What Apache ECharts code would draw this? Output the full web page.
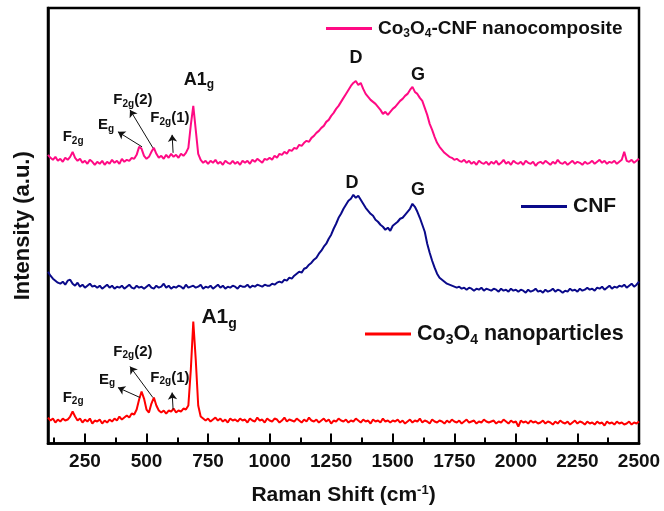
<!DOCTYPE html>
<html>
<head>
<meta charset="utf-8">
<script src="https://cdn.jsdelivr.net/npm/echarts@6/dist/echarts.min.js"></script>
<style>
  html, body { margin: 0; padding: 0; background: #fff; }
  #chart { width: 664px; height: 511px; }
</style>
</head>
<body>
<div id="chart"></div>
<script>
// Raman shift (cm-1), step 10
const shift = [
  100,110,120,130,140,150,160,170,180,190,200,210,220,230,240,250,260,270,280,290,
  300,310,320,330,340,350,360,370,380,390,400,410,420,430,440,450,460,470,480,490,
  500,510,520,530,540,550,560,570,580,590,600,610,620,630,640,650,660,670,680,690,
  700,710,720,730,740,750,760,770,780,790,800,810,820,830,840,850,860,870,880,890,
  900,910,920,930,940,950,960,970,980,990,1000,1010,1020,1030,1040,1050,1060,1070,1080,1090,
  1100,1110,1120,1130,1140,1150,1160,1170,1180,1190,1200,1210,1220,1230,1240,1250,1260,1270,1280,1290,
  1300,1310,1320,1330,1340,1350,1360,1370,1380,1390,1400,1410,1420,1430,1440,1450,1460,1470,1480,1490,
  1500,1510,1520,1530,1540,1550,1560,1570,1580,1590,1600,1610,1620,1630,1640,1650,1660,1670,1680,1690,
  1700,1710,1720,1730,1740,1750,1760,1770,1780,1790,1800,1810,1820,1830,1840,1850,1860,1870,1880,1890,
  1900,1910,1920,1930,1940,1950,1960,1970,1980,1990,2000,2010,2020,2030,2040,2050,2060,2070,2080,2090,
  2100,2110,2120,2130,2140,2150,2160,2170,2180,2190,2200,2210,2220,2230,2240,2250,2260,2270,2280,2290,
  2300,2310,2320,2330,2340,2350,2360,2370,2380,2390,2400,2410,2420,2430,2440,2450,2460,2470,2480,2490,
  2500
];

// intensities (a.u., stacked offsets as in the figure)
const composite = [
  289,286,284,287,283,285,282,286,284,287,292,286,283,285,281,283,280,284,282,279,
  282,280,283,279,282,280,284,281,283,280,285,282,284,283,286,285,289,297,295,288,
  285,287,292,296,290,286,288,285,289,286,290,287,289,286,290,288,291,296,319,338,
  314,290,284,281,283,280,283,281,284,280,282,279,283,281,280,283,280,282,279,283,
  281,283,280,284,282,285,283,281,285,284,286,284,288,286,290,289,292,290,294,293,
  296,295,299,298,301,303,302,306,308,311,313,316,318,322,324,328,331,335,338,342,
  346,350,354,358,361,363,359,361,355,350,347,344,342,340,337,334,330,332,329,332,
  335,337,340,343,345,348,350,354,357,352,350,346,343,336,329,320,314,307,301,297,
  294,291,289,287,286,284,285,283,282,284,281,283,280,282,279,283,281,280,282,279,
  282,280,283,279,281,284,280,282,279,283,281,280,282,279,283,281,280,282,278,281,
  282,280,283,281,279,282,280,284,281,280,282,279,281,283,280,282,281,279,282,280,
  281,283,280,282,284,281,283,280,282,281,283,280,282,284,292,283,282,284,281,283,
  285
];
const cnf = [
  172,168,165,163,161,160,162,159,163,164,160,158,161,157,159,156,158,160,157,158,
  156,158,155,157,159,156,158,155,157,156,158,155,157,159,156,155,158,156,157,155,
  157,159,156,155,158,156,157,160,156,158,155,157,156,158,157,155,159,156,157,158,
  156,157,159,155,157,156,158,155,157,159,156,158,155,157,156,158,157,155,158,157,
  157,159,156,158,157,159,158,157,159,158,158,160,159,161,162,161,164,163,166,165,
  168,170,172,171,175,176,179,181,184,186,190,193,197,200,205,209,215,220,226,230,
  235,239,243,245,249,246,248,244,240,236,233,230,228,224,222,219,217,214,216,213,
  218,220,222,225,226,229,232,235,240,237,232,226,219,212,200,191,183,176,170,166,
  164,162,160,159,158,157,156,157,155,156,154,156,155,153,155,154,156,153,155,154,
  153,155,154,152,155,153,154,152,155,153,154,152,154,153,151,154,152,153,155,152,
  153,151,154,152,153,155,152,154,153,151,153,152,155,153,154,152,155,153,154,156,
  154,155,153,156,155,157,154,156,158,155,157,156,158,157,159,156,158,160,157,159,
  162
];
const co3o4 = [
  26,23,25,21,24,22,25,23,24,27,32,27,23,25,21,24,22,25,20,23,
  22,24,20,23,21,24,22,25,23,27,24,26,28,26,30,29,34,44,52,45,
  34,31,40,46,38,33,31,33,30,33,32,35,31,33,32,35,34,38,74,122,
  84,38,27,25,23,25,22,24,26,23,25,22,24,21,25,23,24,22,25,23,
  24,21,25,23,22,26,23,24,21,25,23,22,25,24,21,23,26,22,24,23,
  22,25,23,21,24,22,26,23,22,24,21,23,25,22,24,20,23,22,25,23,
  22,24,21,23,22,25,23,21,24,22,23,20,24,22,23,21,25,22,23,21,
  23,22,24,21,23,20,22,24,21,23,22,25,21,23,22,20,24,22,21,23,
  22,20,23,21,24,22,21,23,20,22,24,21,22,23,20,22,21,24,22,21,
  22,23,20,22,21,24,22,20,23,21,22,17,23,21,22,20,23,21,22,20,
  21,23,20,22,21,19,22,20,23,21,20,22,19,21,23,20,22,21,19,22,
  20,21,19,22,20,21,18,22,20,21,19,22,20,21,19,20,22,19,21,20,
  22
];

const majorTicks = [250,500,750,1000,1250,1500,1750,2000,2250,2500];
const minorTicks = [125,375,625,875,1125,1375,1625,1875,2125,2375];

// peak labels: [shift, intensity, text]
const compositeLabels = [
  [202, 307, '{b|F}{s|2g}'],
  [336, 319, '{b|E}{s|g}'],
  [445, 344, '{b|F}{s|2g}{b|(2)}'],
  [595, 326, '{b|F}{s|2g}{b|(1)}'],
  [713, 364, '{B|A1}{S|g}'],
  [1351, 386, '{B|D}'],
  [1603, 369, '{B|G}']
];
const cnfLabels = [
  [1335, 261, '{B|D}'],
  [1603, 254, '{B|G}']
];
const co3o4Labels = [
  [202, 46, '{b|F}{s|2g}'],
  [340, 64, '{b|E}{s|g}'],
  [445, 92, '{b|F}{s|2g}{b|(2)}'],
  [595, 66, '{b|F}{s|2g}{b|(1)}'],
  [795, 126, '{C|A1}{T|g}']
];
// arrows: [fromShift, fromI, toShift, toI]
const compositeArrows = [
  [482, 297, 384, 312],
  [526, 296, 433, 334],
  [608, 291, 604, 309]
];
const co3o4Arrows = [
  [474, 46, 384, 56],
  [526, 46, 433, 77],
  [608, 34, 604, 51]
];

const FONT = '"Liberation Sans", Arial, sans-serif';
const rich = {
  b: { fontFamily: FONT, fontWeight: 'bold', fontSize: 15, color: '#111' },
  s: { fontFamily: FONT, fontWeight: 'bold', fontSize: 10, color: '#111', padding: [8, 0, 0, 0] },
  B: { fontFamily: FONT, fontWeight: 'bold', fontSize: 18, color: '#111' },
  S: { fontFamily: FONT, fontWeight: 'bold', fontSize: 12, color: '#111', padding: [10, 0, 0, 0] },
  C: { fontFamily: FONT, fontWeight: 'bold', fontSize: 21, color: '#111' },
  T: { fontFamily: FONT, fontWeight: 'bold', fontSize: 14, color: '#111', padding: [12, 0, 0, 0] }
};

function pairs(vals) {
  return shift.map((x, i) => [x, vals[i]]);
}
function marks(list) {
  return {
    symbol: 'circle',
    symbolSize: 0,
    silent: true,
    label: { show: true, position: 'inside', formatter: p => p.name, rich: rich },
    data: list.map(l => ({ name: l[2], coord: [l[0], l[1]] }))
  };
}
function arrows(list) {
  return {
    silent: true,
    symbol: ['none', 'arrow'],
    symbolSize: 7,
    label: { show: false },
    lineStyle: { color: '#111', width: 1, type: 'solid' },
    emphasis: { disabled: true },
    data: list.map(a => [{ coord: [a[0], a[1]] }, { coord: [a[2], a[3]] }])
  };
}

const chart = echarts.init(document.getElementById('chart'));

function legendRich(size) {
  return {
    n: { fontFamily: FONT, fontWeight: 'bold', fontSize: size, color: '#111' },
    s: { fontFamily: FONT, fontWeight: 'bold', fontSize: Math.round(size * 0.65), color: '#111', padding: [Math.round(size * 0.55), 0, 0, 0] }
  };
}
const legendNames = {
  'Co3O4-CNF nanocomposite': '{n|Co}{s|3}{n|O}{s|4}{n|-CNF nanocomposite}',
  'CNF': '{n|CNF}',
  'Co3O4 nanoparticles': '{n|Co}{s|3}{n|O}{s|4}{n| nanoparticles}'
};
function legendAt(name, left, top, size) {
  return {
    data: [name],
    left: left,
    top: top,
    icon: 'rect',
    itemWidth: 46,
    itemHeight: 3,
    itemGap: 0,
    selectedMode: false,
    formatter: n => legendNames[n],
    textStyle: { rich: legendRich(size), padding: [0, 0, 0, 1] }
  };
}

const option = {
  animation: false,
  backgroundColor: '#fff',
  grid: {
    left: 48, right: 25, top: 8, bottom: 67,
    show: true, borderColor: '#000', borderWidth: 2.5
  },
  legend: [
    legendAt('Co3O4-CNF nanocomposite', 321, 14, 19),
    legendAt('CNF', 516, 191, 21),
    legendAt('Co3O4 nanoparticles', 360, 318, 21.5)
  ],
  xAxis: [
    {
      type: 'value', min: 100, max: 2500,
      name: '{t|Raman Shift (cm}{p|-1}{t|)}',
      nameLocation: 'middle', nameGap: 40,
      nameTextStyle: {
        rich: {
          t: { fontFamily: FONT, fontWeight: 'bold', fontSize: 21, color: '#111' },
          p: { fontFamily: FONT, fontWeight: 'bold', fontSize: 13, color: '#111', padding: [0, 0, 11, 0] }
        }
      },
      axisLine: { show: true, lineStyle: { color: '#000', width: 2.5 } },
      axisTick: { show: true, inside: true, length: 10, customValues: majorTicks, lineStyle: { color: '#000', width: 2 } },
      axisLabel: {
        customValues: majorTicks, margin: 9, formatter: v => String(v),
        fontFamily: FONT, fontWeight: 'bold', fontSize: 19, color: '#111'
      },
      splitLine: { show: false }
    },
    {
      type: 'value', min: 100, max: 2500, position: 'bottom',
      axisLine: { show: false },
      axisTick: { show: true, inside: true, length: 6, customValues: minorTicks, lineStyle: { color: '#000', width: 2 } },
      axisLabel: { show: false },
      splitLine: { show: false }
    }
  ],
  yAxis: {
    type: 'value', min: 0, max: 436,
    name: 'Intensity (a.u.)',
    nameLocation: 'middle', nameGap: 14,
    nameTextStyle: { fontFamily: FONT, fontWeight: 'bold', fontSize: 22, color: '#111' },
    axisLine: { show: true, lineStyle: { color: '#000', width: 2.5 } },
    axisTick: { show: false },
    axisLabel: { show: false },
    splitLine: { show: false }
  },
  series: [
    {
      name: 'Co3O4-CNF nanocomposite', type: 'line', showSymbol: false,
      data: pairs(composite), color: '#ff0a84',
      lineStyle: { width: 2 },
      markPoint: marks(compositeLabels), markLine: arrows(compositeArrows)
    },
    {
      name: 'CNF', type: 'line', showSymbol: false,
      data: pairs(cnf), color: '#0a0a8a',
      lineStyle: { width: 2 },
      markPoint: marks(cnfLabels)
    },
    {
      name: 'Co3O4 nanoparticles', type: 'line', showSymbol: false,
      data: pairs(co3o4), color: '#ff0000',
      lineStyle: { width: 2 },
      markPoint: marks(co3o4Labels), markLine: arrows(co3o4Arrows)
    }
  ]
};

chart.setOption(option);
</script>
</body>
</html>
